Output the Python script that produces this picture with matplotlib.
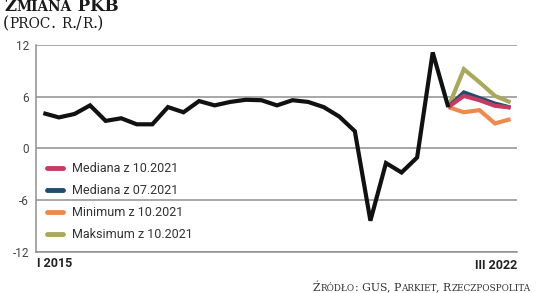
import numpy as np
import matplotlib.pyplot as plt

# GDP change, y/y %, quarterly I 2015 .. III 2021 (actual)
actual = [4.1, 3.6, 4.0, 5.0, 3.2, 3.5, 2.8, 2.8, 4.8, 4.2, 5.5, 5.0, 5.4, 5.65,
          5.6, 5.0, 5.6, 5.4, 4.8, 3.7, 2.0, -8.4, -1.7, -2.8, -1.05, 11.15, 4.8]
# forecasts III 2021 .. III 2022
med_10 = [4.8, 6.1, 5.6, 4.95, 4.75]
med_07 = [4.8, 6.5, 5.85, 5.2, 4.75]
minimum = [4.8, 4.2, 4.45, 2.9, 3.4]
maksimum = [4.8, 9.2, 7.7, 6.1, 5.35]

series_names = ['Mediana z 10.2021', 'Mediana z 07.2021',
                'Minimum z 10.2021', 'Maksimum z 10.2021']
yticks = [-12, -6, 0, 6, 12]
first_label, last_label = 'I 2015', 'III 2022'

colors = {'Mediana z 10.2021': '#c93a63', 'Mediana z 07.2021': '#1f4d6c',
          'Minimum z 10.2021': '#ef8a4f', 'Maksimum z 10.2021': '#a9a85b'}

plt.rcParams['font.family'] = ['Roboto', 'DejaVu Sans']

fig = plt.figure(figsize=(5.36, 2.93), dpi=100)
ax = fig.add_axes([0.0672, 0.141, 0.897, 0.705])
renderer = fig.canvas.get_renderer()


def small_caps(x, y, s, size, ratio=0.8, ha='left', **kw):
    # fake small caps: lowercase letters drawn as smaller capitals
    runs = []
    for ch in s:
        low = ch.isalpha() and ch.islower()
        if runs and runs[-1][1] == low:
            runs[-1][0] += ch
        else:
            runs.append([ch, low])
    texts = []
    cx = x
    for txt, low in runs:
        t = fig.text(cx, y, txt.upper() if low else txt,
                     fontsize=size * ratio if low else size, va='baseline', **kw)
        w = t.get_window_extent(renderer).width / fig.bbox.width
        texts.append(t)
        cx += w
    if ha == 'right':
        shift = cx - x
        for t in texts:
            tx, ty = t.get_position()
            t.set_position((tx - shift, ty))


x_act = np.arange(len(actual))
x_fc = np.arange(len(actual) - 1, len(actual) - 1 + len(med_10))

fc = dict(zip(series_names, [med_10, med_07, minimum, maksimum]))
handles = {}
for name in ['Maksimum z 10.2021', 'Minimum z 10.2021', 'Mediana z 07.2021', 'Mediana z 10.2021']:
    h, = ax.plot(x_fc, fc[name], color=colors[name], lw=3, solid_joinstyle='miter',
                 solid_capstyle='butt', zorder=3)
    handles[name] = h
ax.plot(x_act, actual, color='#111111', lw=3, solid_joinstyle='miter',
        solid_capstyle='butt', zorder=4)

ax.set_xlim(-0.47, 30.4)
ax.set_ylim(-12, 12)
ax.set_yticks(yticks)
ax.set_yticklabels([str(t) for t in yticks], fontsize=8.5, color='#444444')
ax.tick_params(axis='y', length=0, pad=5)
ax.set_xticks([])
ax.grid(axis='y', color='#8f8f8f', lw=1.1)
ax.set_axisbelow(True)
for s in ['top', 'right']:
    ax.spines[s].set_visible(False)
for s in ['left', 'bottom']:
    ax.spines[s].set_color('#8f8f8f')
    ax.spines[s].set_linewidth(1.1)

ax.text(0.003, -0.025, first_label, transform=ax.transAxes, ha='left', va='top',
        fontsize=9, fontweight='bold', color='#222222')
ax.text(1.0, -0.035, last_label, transform=ax.transAxes, ha='right', va='top',
        fontsize=9, fontweight='bold', color='#222222')

leg = ax.legend([handles[n] for n in series_names], series_names, loc='lower left',
                bbox_to_anchor=(0.0, 0.0), frameon=False, fontsize=9,
                handlelength=1.3, handletextpad=0.7, labelspacing=0.72,
                borderaxespad=0.45)
for t in leg.get_texts():
    t.set_color('#333333')
for l in leg.get_lines():
    l.set_linewidth(3.5)
    l.set_solid_capstyle('round')

small_caps(0.008, 0.963, 'Zmiana PKB', 12, ratio=0.82, family='DejaVu Serif',
           fontweight='bold', color='#1a1a1a')
small_caps(0.006, 0.903, '(proc. r./r.)', 11.5, ratio=0.86, family='DejaVu Serif',
           color='#1a1a1a')
small_caps(0.99, 0.008, 'Źródło: GUS, Parkiet, Rzeczpospolita', 7.8, ratio=0.82,
           ha='right', family='DejaVu Serif', color='#333333')

fig.savefig('out.png', dpi=100)
